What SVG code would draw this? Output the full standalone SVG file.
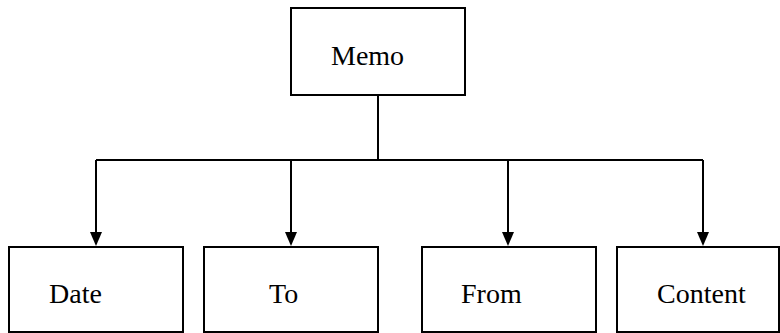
<svg xmlns="http://www.w3.org/2000/svg" width="780" height="333" viewBox="0 0 780 333">
<style>
.box{fill:#fff;stroke:#000;stroke-width:2}
.lbl{font-family:"Liberation Serif","Times New Roman",serif;font-size:28px;fill:#000}
.con{fill:none;stroke:#000;stroke-width:2}
</style>
<defs>
<marker id="ah" markerWidth="12" markerHeight="14" refX="6" refY="14" orient="auto-start-reverse" markerUnits="userSpaceOnUse" viewBox="0 0 12 14">
<path d="M0,0 L12,0 L6,14 Z" fill="#000"/>
</marker>
</defs>
<rect width="780" height="333" fill="#fff"/>
<g id="connectors">
<path class="con" d="M378,95 V160"/>
<path class="con" d="M96,160 H703"/>
<path class="con" d="M96,160 V232"/>
<path class="con" d="M291,160 V232"/>
<path class="con" d="M508,160 V232"/>
<path class="con" d="M703,160 V232"/>
<path d="M90,232 L102,232 L96,246 Z"/>
<path d="M285,232 L297,232 L291,246 Z"/>
<path d="M502,232 L514,232 L508,246 Z"/>
<path d="M697,232 L709,232 L703,246 Z"/>
</g>
<g id="memo">
<rect class="box" x="291" y="8" width="174" height="87"/>
<text class="lbl" x="331" y="65">Memo</text>
</g>
<g id="date">
<rect class="box" x="9" y="247" width="174" height="85"/>
<text class="lbl" x="49" y="303">Date</text>
</g>
<g id="to">
<rect class="box" x="204" y="247" width="174" height="85"/>
<text class="lbl" x="269" y="303">To</text>
</g>
<g id="from">
<rect class="box" x="422" y="247" width="174" height="85"/>
<text class="lbl" x="461" y="303">From</text>
</g>
<g id="content">
<rect class="box" x="617" y="247" width="162" height="85"/>
<text class="lbl" x="657" y="303">Content</text>
</g>
</svg>
